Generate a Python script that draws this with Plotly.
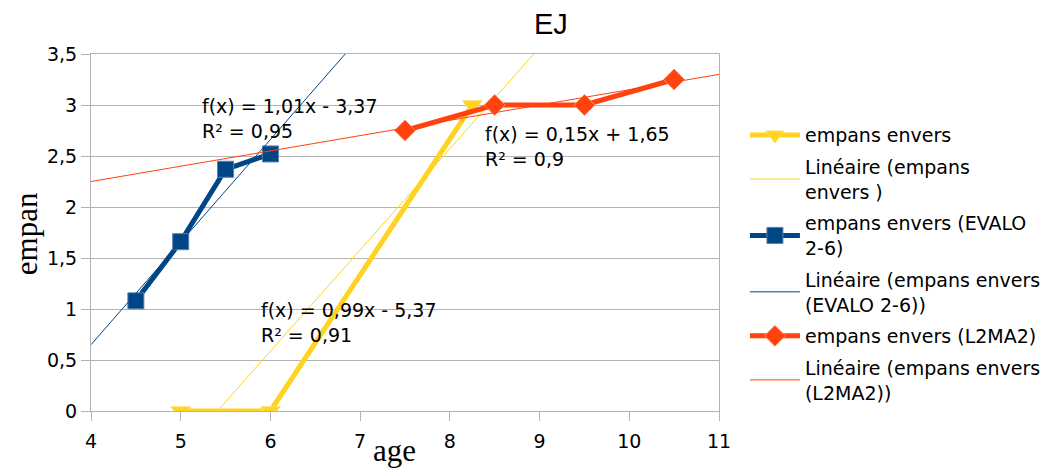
import numpy as np
import plotly.graph_objects as go

# Data
x_yellow = [5, 6, 8.25]
y_yellow = [0, 0, 3]
x_blue = [4.5, 5, 5.5, 6]
y_blue = [1.08, 1.66, 2.37, 2.52]
x_orange = [7.5, 8.5, 9.5, 10.5]
y_orange = [2.75, 3.0, 3.0, 3.25]

names = [
    "empans envers",
    "Linéaire (empans<br>envers )",
    "empans envers (EVALO<br>2-6)",
    "Linéaire (empans envers<br>(EVALO 2-6))",
    "empans envers (L2MA2)",
    "Linéaire (empans envers<br>(L2MA2))",
]
eq_texts = [
    "f(x) = 0,99x - 5,37<br>R² = 0,91",
    "f(x) = 1,01x - 3,37<br>R² = 0,95",
    "f(x) = 0,15x + 1,65<br>R² = 0,9",
]
x_range = [4, 11]
y_range = [0, 3.5]

YEL = "#ffd320"
BLU = "#004586"
ORA = "#ff420e"
SANS = "DejaVu Sans"
SERIF = "Liberation Serif"

fig = go.Figure()

def trend(xs, ys):
    m, b = np.polyfit(xs, ys, 1)
    tx = np.array(x_range, dtype=float)
    return tx, m * tx + b

series = [
    (x_yellow, y_yellow, YEL, "triangle-down", 17, "#ffe066"),
    (x_blue, y_blue, BLU, "square", 16, "#5a7fa8"),
    (x_orange, y_orange, ORA, "diamond", 16, "#ff8a66"),
]
for i, (xs, ys, col, sym, sz, edge) in enumerate(series):
    fig.add_trace(go.Scatter(
        x=xs, y=ys, mode="lines+markers", name=names[2 * i],
        legendgroup=f"g{2 * i}",
        line=dict(color=col, width=5),
        marker=dict(symbol=sym, size=sz, color=col, line=dict(color=edge, width=1)),
    ))
    tx, ty = trend(xs, ys)
    fig.add_trace(go.Scatter(
        x=tx, y=ty, mode="lines", name=names[2 * i + 1],
        legendgroup=f"g{2 * i + 1}",
        line=dict(color=col, width=1),
    ))

ann_pos = [(5.867, 0.863), (5.21, 2.863), (8.367, 2.598)]
for (ax, ay), t in zip(ann_pos, eq_texts):
    fig.add_annotation(x=ax, y=ay, xref="x", yref="y", text=t, showarrow=False,
                       xanchor="left", yanchor="middle", align="left",
                       font=dict(family=SANS, size=19, color="black"))

fig.add_annotation(x=0.733, y=1.0, xref="paper", yref="paper", xanchor="center",
                   yanchor="bottom", yshift=12, text="EJ", showarrow=False,
                   font=dict(family="Liberation Sans", size=29, color="black"))

# axis titles placed as annotations (positions as in the reference)
fig.add_annotation(x=0.4825, y=0.0, xref="paper", yref="paper", xanchor="center",
                   yanchor="top", yshift=-20, text="age", showarrow=False,
                   font=dict(family=SERIF, size=31, color="black"))
fig.add_annotation(x=-0.1016, y=0.4958, xref="paper", yref="paper", xanchor="center",
                   yanchor="middle", textangle=-90, text="empan", showarrow=False,
                   font=dict(family=SERIF, size=31, color="black"))

axis_common = dict(
    showline=True, linecolor="#b3b3b3", linewidth=1, mirror=True,
    ticks="outside", tickcolor="#b3b3b3", ticklen=9,
    tickfont=dict(family=SANS, size=19, color="black"),
    zeroline=False, automargin=False,
)
fig.update_xaxes(range=x_range, dtick=1, showgrid=False, ticklabelstandoff=4, **axis_common)
fig.update_yaxes(range=y_range, dtick=0.5, showgrid=True, gridcolor="#b3b3b3", **axis_common)

fig.update_layout(
    width=1050, height=462,
    margin=dict(l=83, r=337, t=46, b=59),
    plot_bgcolor="white", paper_bgcolor="white",
    separators=", ",
    showlegend=True,
    legend=dict(x=1.0413, y=0.826, xanchor="left", yanchor="top",
                font=dict(family=SANS, size=19, color="black"),
                tracegroupgap=4, itemwidth=50, bgcolor="rgba(0,0,0,0)",
                groupclick="toggleitem"),
)

fig.write_html("out.html")
